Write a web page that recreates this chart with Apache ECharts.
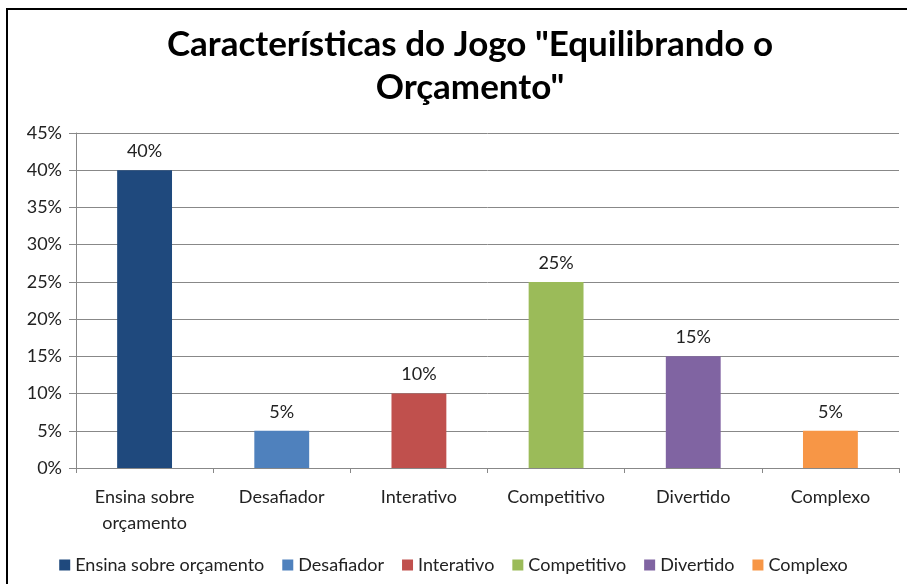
<!DOCTYPE html>
<html><head><meta charset="utf-8">
<script src="https://cdn.jsdelivr.net/npm/echarts@6/dist/echarts.min.js"></script>
<style>html,body{margin:0;padding:0;background:#fff}#c{width:907px;height:584px}</style>
</head><body><div id="c"></div>
<script>
const categories = ['Ensina sobre orçamento','Desafiador','Interativo','Competitivo','Divertido','Complexo'];
const axisLabels = ['Ensina sobre\norçamento','Desafiador','Interativo','Competitivo','Divertido','Complexo'];
const values = [40, 5, 10, 25, 15, 5];
const colors = ['#1F497D','#4F81BD','#C0504D','#9BBB59','#8064A2','#F79646'];
const yTicks = [0,5,10,15,20,25,30,35,40,45];

const font = 'Lato, "Open Sans", sans-serif';
const series = categories.map((name, i) => ({
  name: name,
  type: 'bar',
  stack: 'all',
  barWidth: '40%',
  itemStyle: { color: colors[i] },
  label: { show: true, position: 'top', formatter: p => p.value + '%', fontSize: 18, color: '#222', fontFamily: font, distance: 10 },
  data: values.map((v, j) => j === i ? v : null)
}));

const chart = echarts.init(document.getElementById('c'));
chart.setOption({
  animation: false,
  title: {
    text: 'Características do Jogo "Equilibrando o\nOrçamento"',
    left: 465, top: 18, textAlign: 'center',
    textStyle: { fontFamily: font, fontSize: 35, fontWeight: 'bold', color: '#000', lineHeight: 43 }
  },
  graphic: [{ type: 'rect', shape: { x: 7, y: 9, width: 920, height: 600 }, style: { fill: 'none', stroke: '#000', lineWidth: 2 }, z: 100 }],
  legend: {
    bottom: 5, left: 'center', itemWidth: 11, itemHeight: 11, itemGap: 18,
    icon: 'rect',
    textStyle: { fontFamily: font, fontSize: 18, color: '#222' },
    data: categories
  },
  grid: { left: 76, right: 8, top: 133, bottom: 116 },
  xAxis: {
    type: 'category', data: axisLabels,
    axisLine: { lineStyle: { color: '#888' } },
    axisTick: { show: true, alignWithLabel: false, lineStyle: { color: '#888' }, length: 5 },
    axisLabel: { fontFamily: font, fontSize: 18, color: '#222', margin: 16, lineHeight: 26 }
  },
  yAxis: {
    type: 'value', min: 0, max: 45, interval: 5,
    axisLine: { show: true, lineStyle: { color: '#888' } },
    axisTick: { show: true, length: 7, lineStyle: { color: '#888' } },
    splitLine: { lineStyle: { color: '#888' } },
    axisLabel: { fontFamily: font, fontSize: 18, color: '#222', margin: 14, formatter: v => v + '%' }
  },
  series: series
});
</script></body></html>
